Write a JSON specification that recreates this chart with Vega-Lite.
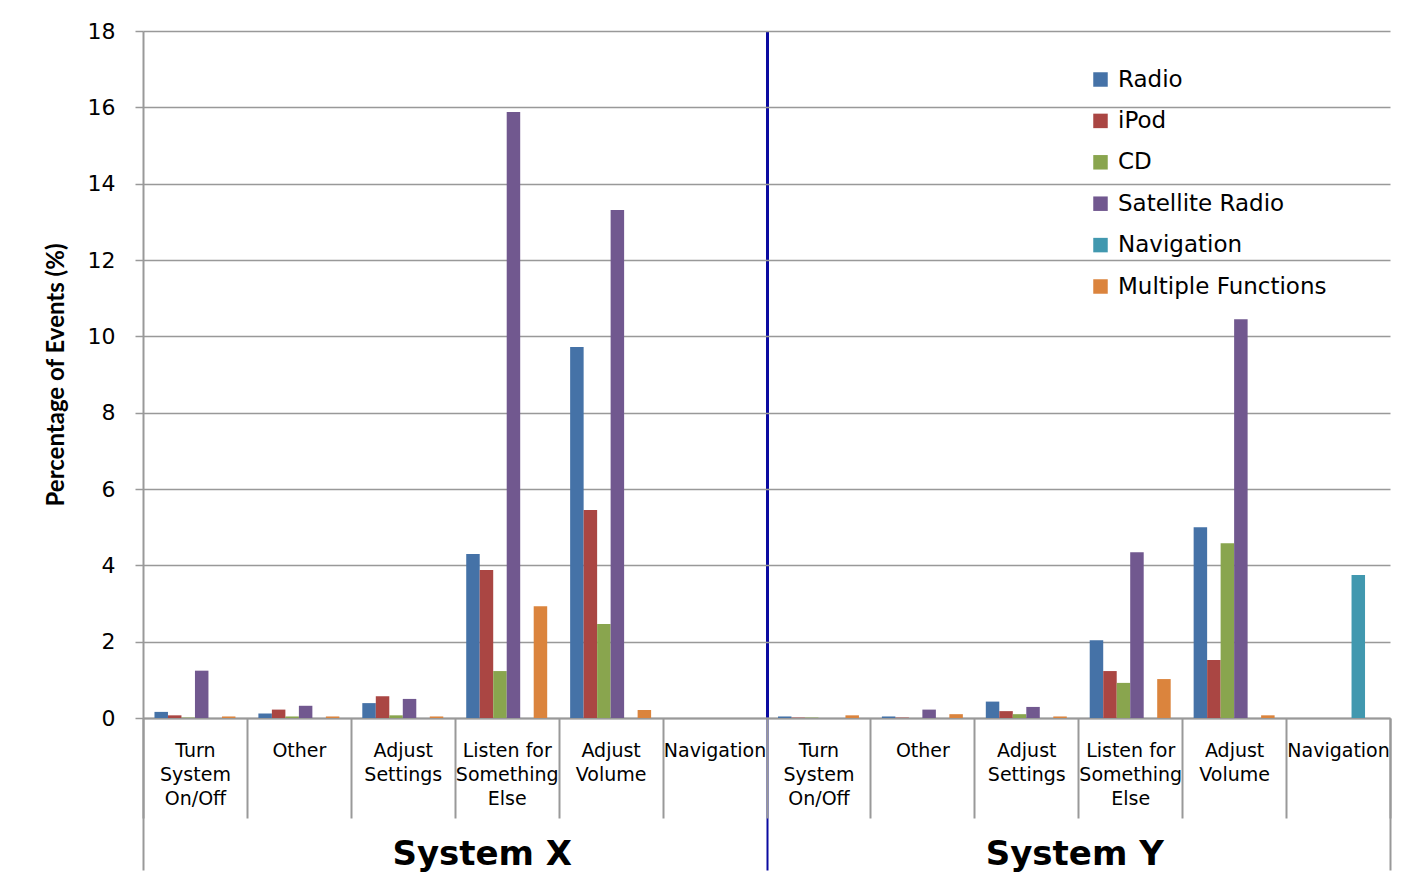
{
  "$schema": "https://vega.github.io/schema/vega-lite/v6.json",
  "width": 1247,
  "height": 687,
  "autosize": {"type": "none"},
  "padding": {"left": 143, "top": 31, "right": 26, "bottom": 173},
  "background": "white",
  "config": {
    "view": {"stroke": null},
    "axis": {"labelColor": "black", "labelFont": "DejaVu Sans"}
  },
  "data": {
    "values": [
      {"system": "System X", "category": "Turn System On/Off", "series": "Radio", "value": 0.16},
      {"system": "System X", "category": "Turn System On/Off", "series": "iPod", "value": 0.07},
      {"system": "System X", "category": "Turn System On/Off", "series": "CD", "value": 0.01},
      {"system": "System X", "category": "Turn System On/Off", "series": "Satellite Radio", "value": 1.24},
      {"system": "System X", "category": "Turn System On/Off", "series": "Navigation", "value": 0},
      {"system": "System X", "category": "Turn System On/Off", "series": "Multiple Functions", "value": 0.04},
      {"system": "System X", "category": "Other", "series": "Radio", "value": 0.12},
      {"system": "System X", "category": "Other", "series": "iPod", "value": 0.22},
      {"system": "System X", "category": "Other", "series": "CD", "value": 0.04},
      {"system": "System X", "category": "Other", "series": "Satellite Radio", "value": 0.32},
      {"system": "System X", "category": "Other", "series": "Navigation", "value": 0},
      {"system": "System X", "category": "Other", "series": "Multiple Functions", "value": 0.04},
      {"system": "System X", "category": "Adjust Settings", "series": "Radio", "value": 0.39},
      {"system": "System X", "category": "Adjust Settings", "series": "iPod", "value": 0.57},
      {"system": "System X", "category": "Adjust Settings", "series": "CD", "value": 0.07},
      {"system": "System X", "category": "Adjust Settings", "series": "Satellite Radio", "value": 0.5},
      {"system": "System X", "category": "Adjust Settings", "series": "Navigation", "value": 0},
      {"system": "System X", "category": "Adjust Settings", "series": "Multiple Functions", "value": 0.04},
      {"system": "System X", "category": "Listen for Something Else", "series": "Radio", "value": 4.3},
      {"system": "System X", "category": "Listen for Something Else", "series": "iPod", "value": 3.88},
      {"system": "System X", "category": "Listen for Something Else", "series": "CD", "value": 1.23},
      {"system": "System X", "category": "Listen for Something Else", "series": "Satellite Radio", "value": 15.88},
      {"system": "System X", "category": "Listen for Something Else", "series": "Navigation", "value": 0},
      {"system": "System X", "category": "Listen for Something Else", "series": "Multiple Functions", "value": 2.93},
      {"system": "System X", "category": "Adjust Volume", "series": "Radio", "value": 9.72},
      {"system": "System X", "category": "Adjust Volume", "series": "iPod", "value": 5.45},
      {"system": "System X", "category": "Adjust Volume", "series": "CD", "value": 2.46},
      {"system": "System X", "category": "Adjust Volume", "series": "Satellite Radio", "value": 13.31},
      {"system": "System X", "category": "Adjust Volume", "series": "Navigation", "value": 0},
      {"system": "System X", "category": "Adjust Volume", "series": "Multiple Functions", "value": 0.21},
      {"system": "System X", "category": "Navigation", "series": "Radio", "value": 0},
      {"system": "System X", "category": "Navigation", "series": "iPod", "value": 0},
      {"system": "System X", "category": "Navigation", "series": "CD", "value": 0},
      {"system": "System X", "category": "Navigation", "series": "Satellite Radio", "value": 0},
      {"system": "System X", "category": "Navigation", "series": "Navigation", "value": 0},
      {"system": "System X", "category": "Navigation", "series": "Multiple Functions", "value": 0},
      {"system": "System Y", "category": "Turn System On/Off", "series": "Radio", "value": 0.04},
      {"system": "System Y", "category": "Turn System On/Off", "series": "iPod", "value": 0.01},
      {"system": "System Y", "category": "Turn System On/Off", "series": "CD", "value": 0.01},
      {"system": "System Y", "category": "Turn System On/Off", "series": "Satellite Radio", "value": 0},
      {"system": "System Y", "category": "Turn System On/Off", "series": "Navigation", "value": 0},
      {"system": "System Y", "category": "Turn System On/Off", "series": "Multiple Functions", "value": 0.07},
      {"system": "System Y", "category": "Other", "series": "Radio", "value": 0.04},
      {"system": "System Y", "category": "Other", "series": "iPod", "value": 0.01},
      {"system": "System Y", "category": "Other", "series": "CD", "value": 0},
      {"system": "System Y", "category": "Other", "series": "Satellite Radio", "value": 0.22},
      {"system": "System Y", "category": "Other", "series": "Navigation", "value": 0},
      {"system": "System Y", "category": "Other", "series": "Multiple Functions", "value": 0.1},
      {"system": "System Y", "category": "Adjust Settings", "series": "Radio", "value": 0.43},
      {"system": "System Y", "category": "Adjust Settings", "series": "iPod", "value": 0.18},
      {"system": "System Y", "category": "Adjust Settings", "series": "CD", "value": 0.1},
      {"system": "System Y", "category": "Adjust Settings", "series": "Satellite Radio", "value": 0.29},
      {"system": "System Y", "category": "Adjust Settings", "series": "Navigation", "value": 0},
      {"system": "System Y", "category": "Adjust Settings", "series": "Multiple Functions", "value": 0.04},
      {"system": "System Y", "category": "Listen for Something Else", "series": "Radio", "value": 2.04},
      {"system": "System Y", "category": "Listen for Something Else", "series": "iPod", "value": 1.23},
      {"system": "System Y", "category": "Listen for Something Else", "series": "CD", "value": 0.92},
      {"system": "System Y", "category": "Listen for Something Else", "series": "Satellite Radio", "value": 4.34},
      {"system": "System Y", "category": "Listen for Something Else", "series": "Navigation", "value": 0},
      {"system": "System Y", "category": "Listen for Something Else", "series": "Multiple Functions", "value": 1.02},
      {"system": "System Y", "category": "Adjust Volume", "series": "Radio", "value": 5.0},
      {"system": "System Y", "category": "Adjust Volume", "series": "iPod", "value": 1.52},
      {"system": "System Y", "category": "Adjust Volume", "series": "CD", "value": 4.58},
      {"system": "System Y", "category": "Adjust Volume", "series": "Satellite Radio", "value": 10.45},
      {"system": "System Y", "category": "Adjust Volume", "series": "Navigation", "value": 0},
      {"system": "System Y", "category": "Adjust Volume", "series": "Multiple Functions", "value": 0.07},
      {"system": "System Y", "category": "Navigation", "series": "Radio", "value": 0},
      {"system": "System Y", "category": "Navigation", "series": "iPod", "value": 0},
      {"system": "System Y", "category": "Navigation", "series": "CD", "value": 0},
      {"system": "System Y", "category": "Navigation", "series": "Satellite Radio", "value": 0},
      {"system": "System Y", "category": "Navigation", "series": "Navigation", "value": 3.75},
      {"system": "System Y", "category": "Navigation", "series": "Multiple Functions", "value": 0}
    ]
  },
  "transform": [
    {"calculate": "datum.system + '|' + datum.category", "as": "slot"}
  ],
  "encoding": {
    "y": {
      "field": "value",
      "type": "quantitative",
      "title": "Percentage of Events (%)",
      "scale": {"domain": [0, 18], "nice": false},
      "axis": {
        "values": [0, 2, 4, 6, 8, 10, 12, 14, 16, 18],
        "grid": true,
        "gridColor": "#999999",
        "gridWidth": 1.5,
        "domainColor": "#999999",
        "domainWidth": 2,
        "tickColor": "#999999",
        "tickWidth": 1.5,
        "tickSize": 8,
        "labelFontSize": 22,
        "labelPadding": 20,
        "titleFont": "Lato",
        "titleFontSize": 24,
        "titleFontWeight": "bold",
        "titleColor": "black",
        "titlePadding": 19
      }
    }
  },
  "layer": [
    {
      "mark": {"type": "bar", "opacity": 0},
      "encoding": {
        "x": {
          "field": "system",
          "type": "nominal",
          "sort": null,
          "scale": {"paddingInner": 0, "paddingOuter": 0},
          "axis": {
            "title": null,
            "orient": "bottom",
            "offset": 0,
            "domain": false,
            "tickBand": "extent",
            "tickSize": 152,
            "tickWidth": 2,
            "tickColor": {"condition": {"test": "datum.value === 'System X'", "value": "#0a0aa0"}, "value": "#999999"},
            "grid": true,
            "gridWidth": 3,
            "gridColor": {"condition": {"test": "datum.value === 'System X'", "value": "#0a0aa0"}, "value": "rgba(0,0,0,0)"},
            "labelFont": "DejaVu Sans",
            "labelFontWeight": "bold",
            "labelFontSize": 34,
            "labelBaseline": "alphabetic",
            "labelPadding": -6,
            "labelOffset": {"condition": {"test": "datum.value === 'System X'", "value": 27}, "value": -4},
            "labelAngle": 0
          }
        }
      }
    },
    {
      "mark": {"type": "bar"},
      "encoding": {
        "x": {
          "field": "slot",
          "type": "nominal",
          "sort": null,
          "scale": {"paddingInner": 0, "paddingOuter": 0},
          "axis": {
            "title": null,
            "orient": "bottom",
            "offset": 0,
            "labelExpr": "{'Turn System On/Off': ['Turn', 'System', 'On/Off'], 'Other': 'Other', 'Adjust Settings': ['Adjust', 'Settings'], 'Listen for Something Else': ['Listen for', 'Something', 'Else'], 'Adjust Volume': ['Adjust', 'Volume'], 'Navigation': 'Navigation'}[split(datum.value, '|')[1]]",
            "labelAngle": 0,
            "labelOverlap": false,
            "labelFontSize": 19,
            "labelLineHeight": 24,
            "labelBaseline": "top",
            "labelPadding": -77,
            "tickBand": "extent",
            "tickSize": 100,
            "tickWidth": 2,
            "tickColor": "#999999",
            "domainColor": "#999999",
            "domainWidth": 2,
            "grid": false
          }
        },
        "xOffset": {
          "field": "series",
          "type": "nominal",
          "sort": ["Radio", "iPod", "CD", "Satellite Radio", "Navigation", "Multiple Functions"],
          "scale": {"paddingInner": 0, "paddingOuter": 0.85}
        },
        "color": {
          "field": "series",
          "type": "nominal",
          "sort": ["Radio", "iPod", "CD", "Satellite Radio", "Navigation", "Multiple Functions"],
          "scale": {
            "domain": ["Radio", "iPod", "CD", "Satellite Radio", "Navigation", "Multiple Functions"],
            "range": ["#4572A7", "#AA4643", "#89A54E", "#71588F", "#4198AF", "#DB843D"]
          },
          "legend": {
            "title": null,
            "orient": "none",
            "legendX": 946,
            "legendY": 37,
            "padding": 0,
            "symbolType": "square",
            "symbolSize": 210,
            "symbolStrokeWidth": 0,
            "labelFont": "DejaVu Sans",
            "labelFontSize": 23,
            "labelLimit": 0,
            "labelColor": "black",
            "labelOffset": 6,
            "rowPadding": 17.4
          }
        }
      }
    }
  ],
  "resolve": {"scale": {"x": "independent", "xOffset": "independent"}, "axis": {"x": "independent"}}
}
